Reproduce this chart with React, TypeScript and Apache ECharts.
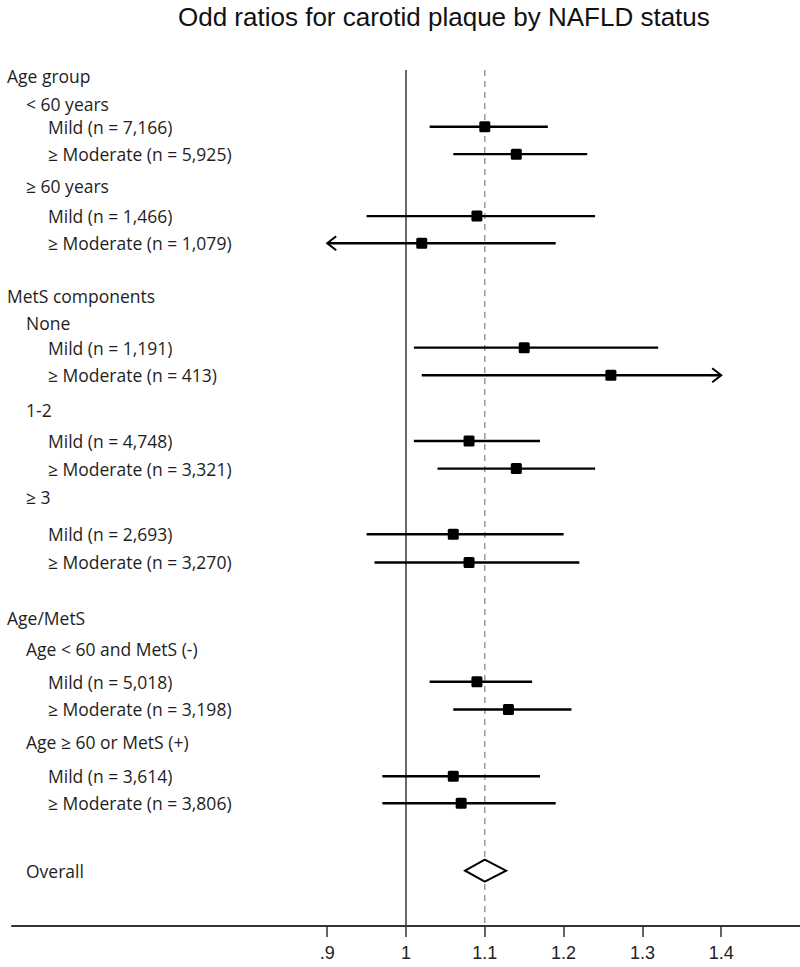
import React, { useEffect, useRef } from "react";
import * as echarts from "echarts";

const titleText = "Odd ratios for carotid plaque by NAFLD status";

const rowLabels = [
  "Age group",
  "< 60 years",
  "Mild (n = 7,166)",
  "≥ Moderate (n = 5,925)",
  "≥ 60 years",
  "Mild (n = 1,466)",
  "≥ Moderate (n = 1,079)",
  "MetS components",
  "None",
  "Mild (n = 1,191)",
  "≥ Moderate (n = 413)",
  "1-2",
  "Mild (n = 4,748)",
  "≥ Moderate (n = 3,321)",
  "≥ 3",
  "Mild (n = 2,693)",
  "≥ Moderate (n = 3,270)",
  "Age/MetS",
  "Age < 60 and MetS (-)",
  "Mild (n = 5,018)",
  "≥ Moderate (n = 3,198)",
  "Age ≥ 60 or MetS (+)",
  "Mild (n = 3,614)",
  "≥ Moderate (n = 3,806)",
  "Overall",
];
const rowLevels = [0, 1, 2, 2, 1, 2, 2, 0, 1, 2, 2, 1, 2, 2, 1, 2, 2, 0, 1, 2, 2, 1, 2, 2, 1];
const rowPositions = [
  0.21, 1.19, 1.99, 2.95, 4.08, 5.12, 6.07,
  7.92, 8.87, 9.73, 10.7, 11.92, 13.0, 13.97, 14.97, 16.27, 17.26,
  19.21, 20.29, 21.44, 22.41, 23.55, 24.75, 25.7, 28.06,
];

// rows (index into rowLabels) that carry an estimate
const estimateRows = [2, 3, 5, 6, 9, 10, 12, 13, 15, 16, 19, 20, 22, 23];
const oddsRatios = [1.1, 1.14, 1.09, 1.02, 1.15, 1.26, 1.08, 1.14, 1.06, 1.08, 1.09, 1.13, 1.06, 1.07];
const ciLower = [1.03, 1.06, 0.95, 0.88, 1.01, 1.02, 1.01, 1.04, 0.95, 0.96, 1.03, 1.06, 0.97, 0.97];
const ciUpper = [1.18, 1.23, 1.24, 1.19, 1.32, 1.45, 1.17, 1.24, 1.2, 1.22, 1.16, 1.21, 1.17, 1.19];

const overallRow = 24;
const overallOR = 1.1;
const overallLower = 1.075;
const overallUpper = 1.127;

const referenceLines = [1, 1.1];
const tickValues = [0.9, 1, 1.1, 1.2, 1.3, 1.4];
const displayMin = 0.9;
const displayMax = 1.4;

const labelIndent = [7, 26, 48];

export default function App() {
  const ref = useRef<HTMLDivElement>(null);

  useEffect(() => {
    if (!ref.current) return;
    const chart = echarts.init(ref.current, null, { renderer: "svg" });

    const option: any = {
      animation: false,
      backgroundColor: "#ffffff",
      title: {
        text: titleText,
        left: 178,
        top: 3,
        padding: 0,
        textStyle: {
          fontFamily: "'Liberation Sans', Arial, sans-serif",
          fontSize: 26,
          lineHeight: 28,
          fontWeight: "normal",
          color: "#111",
        },
      },
      grid: { left: 12, right: 0, top: 70, bottom: 41, containLabel: false, outerBoundsMode: "none" },
      xAxis: {
        type: "value",
        min: 0.5,
        max: 1.5,
        position: "bottom",
        splitLine: { show: false },
        axisLine: { show: true, onZero: false, lineStyle: { color: "#333", width: 2 } },
        axisTick: {
          show: true,
          customValues: tickValues,
          length: 11,
          inside: false,
          lineStyle: { color: "#333", width: 1.5 },
        },
        axisLabel: {
          show: true,
          customValues: tickValues,
          margin: 18,
          fontSize: 18,
          fontFamily: "'Liberation Sans Narrow', 'Arial Narrow', 'Liberation Sans', sans-serif",
          color: "#222",
          formatter: (v: number) => {
            const s = String(Math.round(v * 10) / 10);
            return s.startsWith("0") ? s.slice(1) : s;
          },
        },
      },
      yAxis: { type: "value", inverse: true, min: 0, max: 30, show: false },
      series: [
        {
          type: "custom",
          name: "refs",
          silent: true,
          data: referenceLines.map((v) => [v, 0]),
          encode: { x: 0, y: 1 },
          renderItem: (params: any, api: any) => {
            const cs = params.coordSys;
            const x = api.coord([api.value(0), 0])[0];
            const dashed = params.dataIndex === 1;
            return {
              type: "line",
              shape: { x1: x, y1: cs.y, x2: x, y2: cs.y + cs.height },
              style: dashed
                ? { stroke: "#8a8a8a", lineWidth: 1.3, lineDash: [6, 5] }
                : { stroke: "#444", lineWidth: 1.6 },
            };
          },
        },
        {
          type: "custom",
          name: "labels",
          silent: true,
          data: rowPositions.map((r) => [1, r]),
          encode: { x: 0, y: 1 },
          renderItem: (params: any, api: any) => {
            const i = params.dataIndex;
            const y = api.coord([1, api.value(1)])[1];
            return {
              type: "text",
              x: labelIndent[rowLevels[i]],
              y,
              style: {
                text: rowLabels[i],
                fontFamily: "'Open Sans', Lato, sans-serif",
                fontSize: 17.5,
                fill: "#1e1e1e",
                align: "left",
                verticalAlign: "middle",
              },
            };
          },
        },
        {
          type: "custom",
          name: "estimates",
          silent: true,
          data: estimateRows.map((r, k) => [oddsRatios[k], rowPositions[r], ciLower[k], ciUpper[k]]),
          encode: { x: 0, y: 1 },
          renderItem: (params: any, api: any) => {
            const row = api.value(1);
            const pt = api.coord([api.value(0), row]);
            const lo = api.value(2);
            const hi = api.value(3);
            const loP = api.coord([Math.max(lo, displayMin), row])[0];
            const hiP = api.coord([Math.min(hi, displayMax), row])[0];
            const y = pt[1];
            const children: any[] = [
              {
                type: "line",
                shape: { x1: loP, y1: y, x2: hiP, y2: y },
                style: { stroke: "#000", lineWidth: 2.4 },
              },
              {
                type: "rect",
                shape: { x: pt[0] - 5.5, y: y - 5.5, width: 11, height: 11, r: 1.5 },
                style: { fill: "#000" },
              },
            ];
            if (lo < displayMin) {
              children.push({
                type: "polyline",
                shape: { points: [[loP + 9, y - 7], [loP, y], [loP + 9, y + 7]] },
                style: { stroke: "#000", lineWidth: 2, fill: null },
              });
            }
            if (hi > displayMax) {
              children.push({
                type: "polyline",
                shape: { points: [[hiP - 9, y - 7], [hiP, y], [hiP - 9, y + 7]] },
                style: { stroke: "#000", lineWidth: 2, fill: null },
              });
            }
            return { type: "group", children };
          },
        },
        {
          type: "custom",
          name: "overall",
          silent: true,
          data: [[overallOR, rowPositions[overallRow], overallLower, overallUpper]],
          encode: { x: 0, y: 1 },
          renderItem: (params: any, api: any) => {
            const c = api.coord([api.value(0), api.value(1)]);
            const l = api.coord([api.value(2), api.value(1)])[0];
            const r = api.coord([api.value(3), api.value(1)])[0];
            return {
              type: "polygon",
              shape: {
                points: [
                  [l, c[1]],
                  [c[0], c[1] - 11],
                  [r, c[1]],
                  [c[0], c[1] + 11],
                ],
              },
              style: { fill: "#fff", stroke: "#000", lineWidth: 2 },
            };
          },
        },
      ],
    };

    chart.setOption(option);
    return () => chart.dispose();
  }, []);

  return (
    <div
      ref={ref}
      style={{ position: "absolute", left: 0, top: 0, width: 800, height: 967, background: "#fff" }}
    />
  );
}
